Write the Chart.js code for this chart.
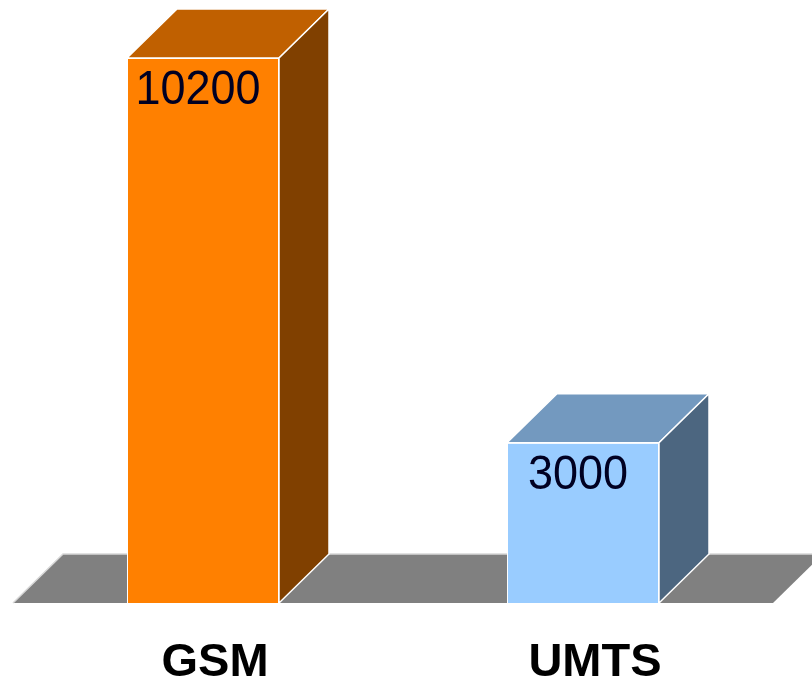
<!DOCTYPE html>
<html>
<head>
<meta charset="utf-8">
<script src="https://cdn.jsdelivr.net/npm/chart.js@4"></script>
<style>
  html, body { margin: 0; padding: 0; background: #fff; }
  #wrap { width: 812px; height: 679px; }
</style>
</head>
<body>
<div id="wrap"><canvas id="chart"></canvas></div>
<script>
const categories = ['GSM', 'UMTS'];
const values = [10200, 3000];
const frontColors = ['#ff8000', '#99ccff'];
const topColors = ['#c06000', '#7399bf'];
const sideColors = ['#804000', '#4c6680'];

const DX = 50, DY = 49;

// floor + 3D faces of the bars
const cube = {
  id: 'cube',
  beforeDatasetsDraw(chart) {
    const { ctx, chartArea: a } = chart;
    ctx.save();
    ctx.beginPath();
    ctx.moveTo(a.left, a.bottom);
    ctx.lineTo(a.left + DX, a.bottom - DY);
    ctx.lineTo(a.right + DX, a.bottom - DY);
    ctx.lineTo(a.right, a.bottom);
    ctx.closePath();
    ctx.fillStyle = '#808080';
    ctx.fill();
    ctx.strokeStyle = '#d8d8d8';
    ctx.lineWidth = 1.5;
    ctx.beginPath();
    ctx.moveTo(a.left, a.bottom);
    ctx.lineTo(a.left + DX, a.bottom - DY);
    ctx.lineTo(a.right + DX, a.bottom - DY);
    ctx.stroke();
    ctx.restore();
  },
  afterDatasetsDraw(chart) {
    const { ctx } = chart;
    const meta = chart.getDatasetMeta(0);
    ctx.save();
    meta.data.forEach((bar, i) => {
      const l = bar.x - bar.width / 2, r = bar.x + bar.width / 2;
      const t = bar.y, b = bar.base;
      ctx.strokeStyle = '#ffffff';
      ctx.lineWidth = 1.5;
      // top
      ctx.beginPath();
      ctx.moveTo(l, t);
      ctx.lineTo(l + DX, t - DY);
      ctx.lineTo(r + DX, t - DY);
      ctx.lineTo(r, t);
      ctx.closePath();
      ctx.fillStyle = topColors[i];
      ctx.fill();
      ctx.stroke();
      // side
      ctx.beginPath();
      ctx.moveTo(r, t);
      ctx.lineTo(r + DX, t - DY);
      ctx.lineTo(r + DX, b - DY);
      ctx.lineTo(r, b);
      ctx.closePath();
      ctx.fillStyle = sideColors[i];
      ctx.fill();
      ctx.stroke();
      // value label (slightly tall, like the original)
      ctx.save();
      ctx.translate(bar.x - 5, t + 46);
      ctx.scale(1, 1.07);
      ctx.fillStyle = '#000022';
      ctx.font = '45px "Liberation Sans", Arial, sans-serif';
      ctx.textAlign = 'center';
      ctx.textBaseline = 'alphabetic';
      ctx.fillText(String(values[i]), 0, 0);
      ctx.restore();
    });
    ctx.restore();
  }
};

new Chart(document.getElementById('chart'), {
  type: 'bar',
  data: {
    labels: categories,
    datasets: [{
      data: values,
      backgroundColor: frontColors,
      borderColor: '#ffffff',
      borderWidth: 1,
      barPercentage: 0.4,
      categoryPercentage: 1
    }]
  },
  options: {
    responsive: true,
    maintainAspectRatio: false,
    animation: false,
    layout: { padding: { left: 13, right: 39, top: 58, bottom: 0 } },
    plugins: { legend: { display: false }, tooltip: { enabled: false } },
    scales: {
      x: {
        grid: { display: false },
        border: { display: false },
        afterFit: s => { s.height = 76; },
        ticks: {
          padding: 24,
          labelOffset: 12,
          color: '#000000',
          font: { family: '"Liberation Sans", Arial, sans-serif', size: 47, weight: 'bold' }
        }
      },
      y: {
        display: false,
        min: 0,
        max: 10200
      }
    }
  },
  plugins: [cube]
});
</script>
</body>
</html>
